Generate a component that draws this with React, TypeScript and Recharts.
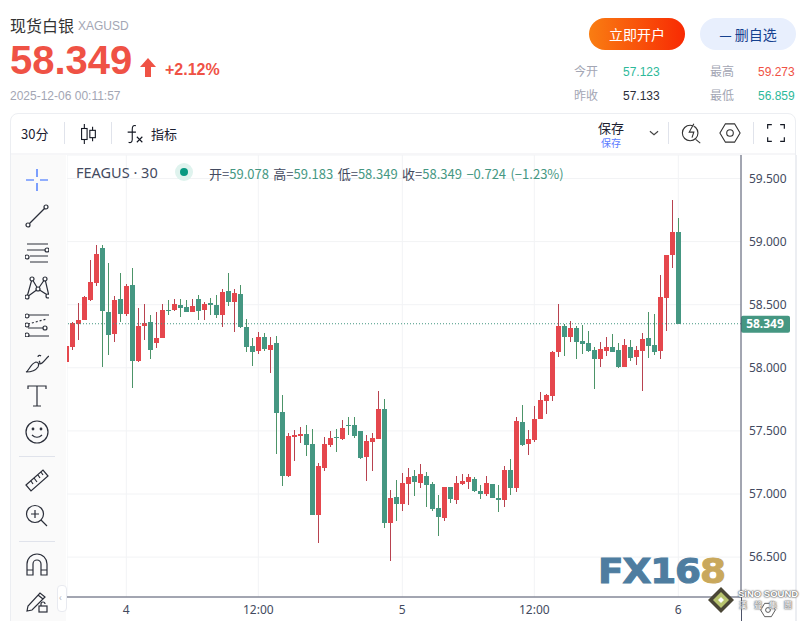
import type { CSSProperties, ReactNode } from "react";
import {
	Bar,
	CartesianGrid,
	ComposedChart,
	ReferenceLine,
	XAxis,
	YAxis,
} from "recharts";

const opens = [
	58.045, 58.163, 58.349, 58.375, 58.538, 58.672, 58.948, 58.443, 58.27, 58.546, 58.428, 58.656, 58.05, 58.333, 58.365,
	58.199, 58.239, 58.459, 58.459, 58.499, 58.483, 58.443, 58.546, 58.459, 58.514, 58.499, 58.42, 58.609, 58.522, 58.585,
	58.325, 58.176, 58.136, 58.247, 58.144, 58.193, 57.646, 57.146, 57.455, 57.463, 57.479, 57.399, 56.836, 57.209, 57.392,
	57.455, 57.439, 57.55, 57.55, 57.503, 57.296, 57.415, 57.439, 57.677, 56.772, 56.979, 56.923, 57.082, 57.146, 57.09,
	57.146, 57.082, 56.892, 56.812, 57.058, 56.955, 57.082, 57.098, 57.122, 57.026, 57.003, 57.082, 56.971, 56.955, 57.193,
	57.05, 57.574, 57.4, 57.424, 57.597, 57.74, 57.779, 58.126, 58.332, 58.245, 58.316, 58.213, 58.197, 58.142, 58.071,
	58.134, 58.166, 58.142, 58.008, 58.166, 58.087, 58.134, 58.237, 58.182, 58.134, 58.553, 58.892, 59.078,
];
const highs = [
	58.176, 58.365, 58.514, 58.57, 58.853, 58.971, 58.971, 58.829, 58.57, 58.751, 58.664, 58.79, 58.475, 58.507, 58.42,
	58.443, 58.507, 58.538, 58.546, 58.546, 58.538, 58.546, 58.577, 58.522, 58.554, 58.577, 58.625, 58.751, 58.625, 58.656,
	58.388, 58.239, 58.286, 58.278, 58.247, 58.249, 57.788, 57.487, 57.511, 57.534, 57.55, 57.518, 57.249, 57.455, 57.503,
	57.518, 57.59, 57.614, 57.614, 57.503, 57.471, 57.487, 57.82, 57.749, 57.034, 57.114, 57.169, 57.209, 57.193, 57.241,
	57.177, 57.098, 56.995, 57.058, 57.058, 57.146, 57.161, 57.161, 57.138, 57.074, 57.146, 57.082, 57.074, 57.225, 57.28,
	57.614, 57.708, 57.511, 57.7, 57.811, 57.795, 58.134, 58.505, 58.347, 58.371, 58.332, 58.34, 58.292, 58.166, 58.205,
	58.245, 58.268, 58.197, 58.229, 58.221, 58.174, 58.276, 58.442, 58.426, 58.734, 58.892, 59.326, 59.183,
];
const lows = [
	58.045, 58.144, 58.223, 58.375, 58.53, 58.648, 58.01, 58.105, 58.207, 58.365, 58.412, 57.837, 58.042, 58.223, 58.073,
	58.16, 58.239, 58.42, 58.451, 58.404, 58.443, 58.443, 58.381, 58.381, 58.42, 58.396, 58.325, 58.491, 58.286, 58.318,
	58.128, 58.018, 58.113, 58.136, 57.955, 57.32, 57.066, 57.138, 57.265, 57.408, 57.304, 56.836, 56.614, 57.185, 57.376,
	57.336, 57.431, 57.471, 57.447, 57.28, 57.106, 57.185, 57.439, 56.733, 56.471, 56.788, 56.868, 56.915, 56.987, 57.05,
	56.899, 56.868, 56.669, 56.788, 56.931, 56.923, 57.074, 57.042, 57.018, 56.963, 56.987, 56.971, 56.86, 56.899, 56.995,
	57.018, 57.384, 57.313, 57.416, 57.597, 57.637, 57.74, 58.087, 58.095, 58.205, 58.071, 58.111, 58.126, 57.834, 58.008,
	58.095, 58.126, 58.0, 58.008, 58.055, 58.024, 57.818, 58.079, 58.103, 58.071, 58.292, 58.79, 58.349,
];
const closes = [
	58.176, 58.354, 58.381, 58.562, 58.68, 58.9, 58.451, 58.262, 58.538, 58.428, 58.648, 58.05, 58.333, 58.357, 58.144,
	58.239, 58.459, 58.451, 58.507, 58.475, 58.443, 58.491, 58.451, 58.507, 58.499, 58.42, 58.601, 58.522, 58.593, 58.325,
	58.168, 58.128, 58.247, 58.152, 58.184, 57.638, 57.146, 57.463, 57.471, 57.479, 57.392, 56.836, 57.225, 57.399, 57.447,
	57.447, 57.526, 57.542, 57.463, 57.288, 57.423, 57.447, 57.677, 56.772, 56.971, 56.923, 57.09, 57.138, 57.098, 57.161,
	57.074, 56.884, 56.82, 57.058, 56.963, 57.09, 57.106, 57.138, 57.026, 57.003, 57.09, 56.971, 56.955, 57.193, 57.05,
	57.582, 57.392, 57.432, 57.597, 57.747, 57.787, 58.126, 58.332, 58.245, 58.316, 58.205, 58.189, 58.134, 58.071, 58.15,
	58.166, 58.126, 58.008, 58.182, 58.079, 58.142, 58.229, 58.174, 58.126, 58.561, 58.892, 59.074, 58.349,
];

const priceTicks = [56.5, 57, 57.5, 58, 58.5, 59, 59.5];
const timeTicks = [10, 32, 56, 78, 102];
const timeLabels = ["4", "12:00", "5", "12:00", "6"];
const lastPrice = 58.349;

const rows = opens.map((open, i) => ({
	i,
	open,
	high: highs[i],
	low: lows[i],
	close: closes[i],
}));

const UP = "#e5474d";
const DOWN = "#459782";
const UP_WICK = "#b8424f";
const DOWN_WICK = "#4c9468";
const INK = "#2a2e39";
const AXIS = "#4d5369";
const CJK = '"Noto Sans CJK SC", "Noto Sans", sans-serif';
const LATIN = '"Liberation Sans", Arial, sans-serif';

// body and wick are placed inside the [low, high] range the Bar gives us
function Candle(props: any) {
	const { x, y, width, height, payload } = props;
	const { open, high, low, close } = payload;
	const perUnit = height / (high - low);
	const top = y + (high - Math.max(open, close)) * perUnit;
	const bottom = y + (high - Math.min(open, close)) * perUnit;
	const up = close >= open;
	const mid = x + width / 2;
	return (
		<g shapeRendering="crispEdges">
			<rect x={Math.round(mid - 0.5)} y={y} width={1} height={height} fill={up ? UP_WICK : DOWN_WICK} />
			<rect
				x={Math.round(mid - 2.5)}
				y={top}
				width={5}
				height={Math.max(bottom - top, 1)}
				fill={up ? UP : DOWN}
			/>
		</g>
	);
}

function PriceTag(props: any) {
	const { viewBox } = props;
	const left = viewBox.x + viewBox.width;
	const mid = viewBox.y;
	return (
		<g>
			<rect x={left} y={mid - 8} width={49} height={17} rx={2} fill={DOWN} />
			<text x={left + 24} y={mid + 4.5} textAnchor="middle" fontSize={12} fontWeight={700} fill="#fff">
				{lastPrice.toFixed(3)}
			</text>
		</g>
	);
}

function T({
	x,
	y,
	size = 12,
	color = INK,
	weight = 400,
	font = CJK,
	style,
	children,
}: {
	x: number;
	y: number;
	size?: number;
	color?: string;
	weight?: number;
	font?: string;
	style?: CSSProperties;
	children: ReactNode;
}) {
	return (
		<div
			style={{
				position: "absolute",
				left: x,
				top: y,
				transform: "translateY(-50%)",
				fontSize: size,
				color,
				fontWeight: weight,
				fontFamily: font,
				whiteSpace: "nowrap",
				lineHeight: 1,
				...style,
			}}
		>
			{children}
		</div>
	);
}

function Box({ x, y, w, h, style }: { x: number; y: number; w: number; h: number; style?: CSSProperties }) {
	return <div style={{ position: "absolute", left: x, top: y, width: w, height: h, ...style }} />;
}

function Icon({ cx, cy, size = 24, color = "#2a2e39", children }: { cx: number; cy: number; size?: number; color?: string; children: ReactNode }) {
	return (
		<svg
			width={size}
			height={size}
			viewBox="0 0 24 24"
			fill="none"
			stroke={color}
			strokeWidth={1.2}
			style={{ position: "absolute", left: cx - size / 2, top: cy - size / 2 }}
		>
			{children}
		</svg>
	);
}

function ToolRail() {
	return (
		<>
			<Box x={11} y={155} w={55} h={466} style={{ background: "#fafafa" }} />
			<Icon cx={37} cy={180} color="#2962ff">
				<path d="M12 1v8M12 15v8M1 12h8M15 12h8" />
			</Icon>
			<Icon cx={37} cy={216}>
				<path d="M3.5 20.5 20.5 3.5" />
				<circle cx={3} cy={21} r={2} fill="#fff" />
				<circle cx={21} cy={3} r={2} fill="#fff" />
			</Icon>
			<Icon cx={37} cy={252}>
				<path d="M2 4h21M2 10h19M5 16h18M5 22h18" />
				<circle cx={22} cy={10} r={2} fill="#fff" />
				<circle cx={2} cy={17} r={2} fill="#fff" />
			</Icon>
			<Icon cx={37} cy={288}>
				<path d="M2 21 7 3l6 10 7-10 4 17-11-7-11 8Z" />
				<circle cx={2} cy={21} r={2} fill="#fff" />
				<circle cx={7} cy={3} r={2} fill="#fff" />
				<circle cx={13} cy={13} r={2} fill="#fff" />
				<circle cx={20} cy={3} r={2} fill="#fff" />
				<circle cx={23} cy={20} r={2} fill="#fff" />
			</Icon>
			<Icon cx={37} cy={325}>
				<path d="M3 2h21M3 23h21M3 15h18" />
				<path d="M3 11 22 6" strokeDasharray="2 2" />
				<circle cx={2} cy={3} r={2} fill="#fff" />
				<circle cx={2} cy={12} r={2} fill="#fff" />
				<circle cx={2} cy={22} r={2} fill="#fff" />
				<circle cx={20} cy={15} r={2} fill="#fff" />
			</Icon>
			<Icon cx={37} cy={362}>
				<path d="M1 22c3-1 4-8 10-10 3 0 3 3 2 5-2 3-6 5-12 5Z" />
				<path d="M14 11c2 2 0 3 1 3 3 0 6-6 9-8M13 7c0-2 2-2 3-1" />
			</Icon>
			<Icon cx={37} cy={396}>
				<path d="M3 5V2h18v3M12 2v20M8 22h8" />
			</Icon>
			<Icon cx={37} cy={432}>
				<circle cx={12} cy={12} r={11} />
				<circle cx={8} cy={9} r={0.8} />
				<circle cx={16} cy={9} r={0.8} />
				<path d="M7 15c3 3 7 3 10 0" />
			</Icon>
			<Box x={19} y={456} w={36} h={1} style={{ background: "#e0e3eb" }} />
			<Icon cx={37} cy={480}>
				<path d="M1 17 18 2l5 6L6 23ZM6 13l2 3M9 10l3 4M13 7l2 3M16 4l2 3" />
			</Icon>
			<Icon cx={37} cy={516}>
				<circle cx={10} cy={10} r={8.5} />
				<path d="M10 6v8M6 10h8M16 16l6 6" />
			</Icon>
			<Box x={19} y={541} w={36} h={1} style={{ background: "#e0e3eb" }} />
			<Icon cx={37} cy={565}>
				<path d="M2 22V11a10 10 0 0 1 20 0v11h-6V11a4 4 0 0 0-8 0v11ZM2 17h6M16 17h6" />
			</Icon>
			<Icon cx={37} cy={601}>
				<path d="M2 22l1-5L15 4l5 4L7 21ZM13 6l5 4" />
				<rect x={14} y={17} width={8} height={6} />
				<path d="M16 17v-2a2 2 0 0 1 4 0" />
			</Icon>
			<Box x={57} y={585} w={8} h={25} style={{ background: "#fff", border: "1px solid #e8eaf0", borderRadius: 4 }} />
			<T x={59} y={597} size={10} color="#b2b5be">
				‹
			</T>
		</>
	);
}

function Header() {
	return (
		<>
			<T x={10} y={25} size={16} color="#333">
				现货白银
			</T>
			<T x={78} y={26} size={12} color="#a3a6b4" font={LATIN}>
				XAGUSD
			</T>
			<T x={10} y={60} size={40} color="#ef5245" weight={700} font={LATIN}>
				58.349
			</T>
			<svg width={16} height={20} viewBox="0 0 16 20" style={{ position: "absolute", left: 140, top: 58 }}>
				<path d="M8 0 16 9H11V19H5V9H0Z" fill="#ef5245" />
			</svg>
			<T x={165} y={70} size={16} color="#ef5245" weight={700} font={LATIN}>
				+2.12%
			</T>
			<T x={10} y={96} size={12} color="#a3a6b4" font={LATIN}>
				2025-12-06 00:11:57
			</T>
			<div
				style={{
					position: "absolute",
					left: 589,
					top: 18,
					width: 96,
					height: 32,
					borderRadius: 16,
					background: "linear-gradient(90deg, #f97d12, #f82a03)",
					color: "#fff",
					fontFamily: CJK,
					fontSize: 14,
					lineHeight: "32px",
					textAlign: "center",
				}}
			>
				立即开户
			</div>
			<div
				style={{
					position: "absolute",
					left: 700,
					top: 18,
					width: 96,
					height: 32,
					borderRadius: 16,
					background: "#e8effd",
					color: "#15418f",
					fontFamily: CJK,
					fontSize: 14,
					lineHeight: "32px",
					textAlign: "center",
				}}
			>
				— 删自选
			</div>
			<T x={574} y={71} color="#a3a6b4">今开</T>
			<T x={623} y={72} color="#2db99a" font={LATIN}>57.123</T>
			<T x={710} y={71} color="#a3a6b4">最高</T>
			<T x={758} y={72} color="#ef5245" font={LATIN}>59.273</T>
			<T x={574} y={95} color="#a3a6b4">昨收</T>
			<T x={623} y={96} color="#2a2e39" font={LATIN}>57.133</T>
			<T x={710} y={95} color="#a3a6b4">最低</T>
			<T x={758} y={96} color="#2db99a" font={LATIN}>56.859</T>
		</>
	);
}

function TopBar() {
	return (
		<>
			<Box x={10} y={113} w={786} h={520} style={{ border: "1px solid #eceef2", borderRadius: 8, boxSizing: "border-box" }} />
			<Box x={11} y={153} w={784} h={2} style={{ background: "#f6f6f8" }} />
			<T x={21} y={133} size={13} color="#1c2030">30分</T>
			<Box x={64} y={122} w={1} h={22} style={{ background: "#e0e3eb" }} />
			<Icon cx={88} cy={134} size={22} color="#131722">
				<path d="M8 1v22M17 4v16" />
				<rect x={5} y={6} width={6} height={12} fill="#fff" />
				<rect x={14} y={8} width={6} height={8} fill="#fff" />
			</Icon>
			<Box x={111} y={122} w={1} h={22} style={{ background: "#e0e3eb" }} />
			<Icon cx={135} cy={134} size={22} color="#131722">
				<path d="M13 3c-3-1-4 1-4 4v11c0 3-2 4-4 3M4 10h9M14 15l6 6M20 15l-6 6" />
			</Icon>
			<T x={151} y={133} size={13} color="#1c2030">指标</T>
			<T x={598} y={127} size={13} color="#1c2030">保存</T>
			<T x={601} y={143} size={10} color="#5b7cff">保存</T>
			<Icon cx={654} cy={133} size={14} color="#444">
				<path d="M5 9l7 6 7-6" strokeWidth={2} />
			</Icon>
			<Box x={668} y={122} w={1} h={22} style={{ background: "#e0e3eb" }} />
			<Icon cx={692} cy={133} size={22} color="#333">
				<circle cx={10} cy={12} r={8.5} />
				<path d="M16 19l5 4" />
				<path d="M14 2 9 11h5l-2 6" fill="#fff" />
			</Icon>
			<Icon cx={730} cy={133} size={22} color="#333">
				<path d="M7 2h10l6 10-6 10H7L1 12Z" />
				<circle cx={12} cy={12} r={3.6} />
			</Icon>
			<Box x={753} y={122} w={1} h={22} style={{ background: "#e0e3eb" }} />
			<Icon cx={776} cy={133} size={20} color="#131722">
				<path d="M2 7V2h5M17 2h5v5M22 17v5h-5M7 22H2v-5" strokeWidth={1.4} />
			</Icon>
		</>
	);
}

function QuoteLine() {
	const g = { color: DOWN };
	return (
		<>
			<T x={76} y={172} size={14.5} color="#434a60" font='"Noto Sans", sans-serif'>
				FEAGUS · 30
			</T>
			<svg width={20} height={20} style={{ position: "absolute", left: 174, top: 162 }}>
				<circle cx={10} cy={10} r={9} fill="#dff3ee" />
				<circle cx={10} cy={10} r={4} fill="#089981" />
			</svg>
			<T x={209} y={173} size={13} color="#434a60" style={{ wordSpacing: 1.5 }}>
				开=<span style={g}>59.078</span> 高=<span style={g}>59.183</span> 低=<span style={g}>58.349</span> 收=
				<span style={g}>58.349</span> <span style={g}>−0.724 (−1.23%)</span>
			</T>
		</>
	);
}

function Marks() {
	return (
		<>
			<T
				x={598}
				y={571}
				size={34}
				weight={700}
				font='"DejaVu Sans", sans-serif'
				style={{
					letterSpacing: -1,
					color: "#4e7da0",
					WebkitTextStroke: "1px #4e7da0",
					transform: "translateY(-50%) scaleX(1.1)",
					transformOrigin: "left center",
				}}
			>
				FX16<span style={{ color: "#c9a85c", WebkitTextStroke: "1px #c9a85c" }}>8</span>
			</T>
			<svg width={26} height={26} viewBox="0 0 26 26" style={{ position: "absolute", left: 708, top: 587 }}>
				<path d="M13 0 26 13 13 26 0 13Z" fill="#4a4636" />
				<path d="M13 5 21 13 13 21 5 13Z" fill="#b7c36e" />
				<path d="M13 10 16 13 13 16 10 13Z" fill="#fff" />
			</svg>
			<T x={738} y={594} size={9.5} weight={700} color="#fff" font={LATIN} style={{ textShadow: "0 0 2px #666, 0 0 2px #666, 0 0 1px #666" }}>
				SiNO SOUND
			</T>
			<T x={739} y={605} size={8} color="#fff" style={{ letterSpacing: 7, textShadow: "0 0 2px #666, 0 0 2px #666, 0 0 1px #666" }}>
				漢聲集團
			</T>
		</>
	);
}

export default function App() {
	return (
		<div
			style={{
				position: "absolute",
				left: 0,
				top: 0,
				width: 807,
				height: 621,
				overflow: "hidden",
				background: "#fff",
			}}
		>
			<Header />
			<TopBar />
			<ToolRail />
			<div style={{ position: "absolute", left: 67, top: 155 }}>
				<ComposedChart
					width={729}
					height={466}
					data={rows}
					margin={{ top: 0, right: 0, bottom: 0, left: 0 }}
					style={{ fontFamily: '"Noto Sans", sans-serif' }}
				>
					<CartesianGrid stroke="#f2f3f5" />
					<XAxis
						dataKey="i"
						type="number"
						domain={[0.117, 112.45]}
						allowDataOverflow
						ticks={timeTicks}
						interval={0}
						height={24}
						tickLine={false}
						axisLine={{ stroke: AXIS }}
						tick={{ fill: "#434a60", fontSize: 12 }}
						tickFormatter={(v: number) => timeLabels[timeTicks.indexOf(v)]}
					/>
					<YAxis
						orientation="right"
						type="number"
						domain={[56.184, 59.686]}
						allowDataOverflow
						ticks={priceTicks}
						interval={0}
						width={55}
						tickLine={false}
						axisLine={{ stroke: AXIS }}
						tick={{ fill: "#434a60", fontSize: 12 }}
						tickFormatter={(v: number) => v.toFixed(3)}
					/>
					<ReferenceLine
						y={lastPrice}
						stroke={DOWN}
						strokeDasharray="1 2"
						label={<PriceTag />}
					/>
					<Bar
						dataKey={(r: any) => [r.low, r.high]}
						barSize={5}
						shape={<Candle />}
						isAnimationActive={false}
					/>
				</ComposedChart>
			</div>
			<Box x={741} y={597} w={1} h={24} style={{ background: AXIS }} />
			<Box x={796} y={155} w={1} h={466} style={{ background: "#eceef2" }} />
			<Icon cx={768} cy={610} size={16} color="#333">
				<path d="M7 2h10l6 10-6 10H7L1 12Z" />
				<circle cx={12} cy={12} r={3.6} />
			</Icon>
			<QuoteLine />
			<Marks />
		</div>
	);
}
